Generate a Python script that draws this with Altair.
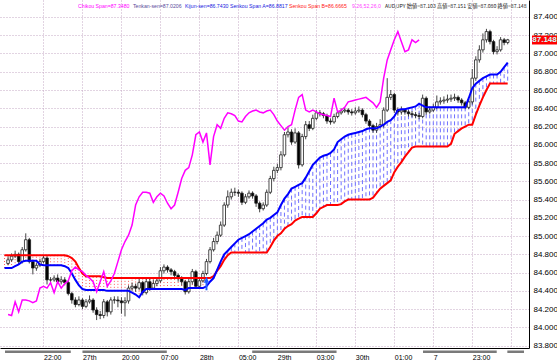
import altair as alt
import pandas as pd

# ---------------- data ----------------
first_open = 84.70
closes = [
    84.74, 84.78, 84.80, 84.72, 84.85, 84.96, 84.72, 84.65, 84.68, 84.72,
    84.76, 84.52, 84.52, 84.54, 84.50, 84.52, 84.49, 84.37, 84.30, 84.25,
    84.30, 84.23, 84.28, 84.30, 84.19, 84.14, 84.13, 84.28, 84.17, 84.30,
    84.30, 84.29, 84.27, 84.29, 84.43, 84.45, 84.43, 84.49, 84.38, 84.50,
    84.43, 84.48, 84.51, 84.62, 84.66, 84.63, 84.61, 84.57, 84.54, 84.50,
    84.39, 84.50, 84.61, 84.45, 84.51, 84.59, 84.72, 84.85, 84.94, 85.01,
    85.12, 85.34, 85.43, 85.48, 85.48, 85.47, 85.37, 85.43, 85.47, 85.44,
    85.36, 85.30, 85.34, 85.48, 85.63, 85.72, 85.75, 85.89, 86.11, 86.14,
    86.03, 86.13, 85.78, 86.09, 86.22, 86.18, 86.29, 86.35, 86.34, 86.32,
    86.26, 86.25, 86.31, 86.35, 86.37, 86.38, 86.36, 86.35, 86.37, 86.38,
    86.33, 86.26, 86.21, 86.16, 86.20, 86.22, 86.38, 86.52, 86.55, 86.38,
    86.36, 86.38, 86.36, 86.34, 86.33, 86.32, 86.31, 86.51, 86.36, 86.38,
    86.41, 86.47, 86.48, 86.49, 86.50, 86.51, 86.52, 86.49, 86.46, 86.41,
    86.47, 86.73, 86.93, 87.04, 87.15, 87.24, 87.13, 87.02, 87.04, 87.15,
    87.12, 87.15,
]
highs = [
    84.78, 84.81, 84.84, 84.82, 84.88, 85.03, 84.98, 84.74, 84.71, 84.75,
    84.79, 84.78, 84.55, 84.57, 84.58, 84.56, 84.55, 84.51, 84.39, 84.33,
    84.34, 84.32, 84.31, 84.35, 84.32, 84.22, 84.18, 84.31, 84.30, 84.33,
    84.34, 84.34, 84.33, 84.33, 84.46, 84.49, 84.48, 84.53, 84.51, 84.54,
    84.53, 84.52, 84.55, 84.66, 84.69, 84.68, 84.65, 84.63, 84.59, 84.56,
    84.52, 84.53, 84.64, 84.63, 84.54, 84.62, 84.75, 84.88, 84.98, 85.05,
    85.16, 85.37, 85.50, 85.52, 85.53, 85.51, 85.49, 85.46, 85.50, 85.49,
    85.46, 85.38, 85.37, 85.51, 85.66, 85.76, 85.79, 85.93, 86.14, 86.19,
    86.17, 86.18, 86.15, 86.12, 86.26, 86.26, 86.33, 86.38, 86.38, 86.36,
    86.34, 86.29, 86.34, 86.38, 86.40, 86.41, 86.40, 86.39, 86.41, 86.42,
    86.40, 86.35, 86.28, 86.23, 86.24, 86.28, 86.41, 86.73, 86.60, 86.57,
    86.41, 86.42, 86.40, 86.38, 86.37, 86.36, 86.35, 86.55, 86.53, 86.42,
    86.45, 86.54, 86.52, 86.53, 86.55, 86.55, 86.56, 86.54, 86.51, 86.48,
    86.50, 86.83, 86.97, 87.09, 87.22, 87.27, 87.26, 87.15, 87.08, 87.18,
    87.17, 87.16,
]
lows = [
    84.68, 84.72, 84.76, 84.69, 84.70, 84.83, 84.70, 84.58, 84.62, 84.66,
    84.70, 84.47, 84.49, 84.50, 84.48, 84.47, 84.46, 84.35, 84.26, 84.22,
    84.23, 84.20, 84.21, 84.26, 84.16, 84.08, 84.09, 84.10, 84.12, 84.14,
    84.26, 84.22, 84.15, 84.12, 84.26, 84.40, 84.39, 84.41, 84.35, 84.36,
    84.40, 84.41, 84.45, 84.49, 84.59, 84.60, 84.57, 84.54, 84.50, 84.46,
    84.36, 84.37, 84.47, 84.42, 84.43, 84.49, 84.57, 84.70, 84.83, 84.91,
    84.99, 85.10, 85.31, 85.40, 85.44, 85.43, 85.34, 85.35, 85.41, 85.41,
    85.32, 85.26, 85.28, 85.32, 85.46, 85.60, 85.69, 85.72, 85.87, 86.08,
    86.00, 86.01, 85.74, 85.76, 86.06, 86.15, 86.16, 86.27, 86.31, 86.29,
    86.23, 86.22, 86.23, 86.29, 86.33, 86.35, 86.33, 86.32, 86.33, 86.35,
    86.30, 86.23, 86.18, 86.13, 86.13, 86.18, 86.19, 86.36, 86.49, 86.35,
    86.32, 86.33, 86.33, 86.31, 86.30, 86.29, 86.28, 86.29, 86.33, 86.34,
    86.36, 86.39, 86.44, 86.45, 86.46, 86.47, 86.48, 86.46, 86.43, 86.39,
    86.39, 86.44, 86.70, 86.90, 87.01, 87.12, 87.10, 86.99, 86.99, 87.02,
    87.09, 87.10,
]
# Senkou Span A (blue) and B (red), bars 0..142
span_a = [
    84.65, 84.65, 84.65, 84.67, 84.69, 84.72, 84.73, 84.73, 84.73, 84.73,
    84.69, 84.68, 84.68, 84.68, 84.68, 84.68, 84.68, 84.67, 84.65, 84.59,
    84.52, 84.46, 84.42, 84.41, 84.41, 84.41, 84.41, 84.41, 84.41, 84.40,
    84.40, 84.40, 84.40, 84.40, 84.40, 84.40, 84.38, 84.36, 84.33, 84.39,
    84.42, 84.42, 84.42, 84.42, 84.42, 84.42, 84.42, 84.42, 84.42, 84.42,
    84.42, 84.41, 84.43, 84.43, 84.43, 84.43, 84.43, 84.45, 84.50, 84.54,
    84.63, 84.72, 84.80, 84.84, 84.88, 84.92, 84.96, 84.98, 85.00, 85.02,
    85.05, 85.08, 85.11, 85.14, 85.18, 85.20, 85.23, 85.26, 85.34, 85.41,
    85.46, 85.52, 85.54, 85.56, 85.58, 85.64, 85.71, 85.78, 85.82, 85.86,
    85.88, 85.89, 85.91, 85.95, 86.03, 86.06, 86.09, 86.11, 86.12, 86.13,
    86.14, 86.15, 86.17, 86.18, 86.18, 86.18, 86.20, 86.22, 86.25, 86.27,
    86.31, 86.38, 86.39, 86.39, 86.40, 86.41, 86.42, 86.45, 86.43, 86.41,
    86.41, 86.41, 86.41, 86.41, 86.41, 86.41, 86.41, 86.41, 86.41, 86.41,
    86.41, 86.51, 86.62, 86.67, 86.70, 86.73, 86.75, 86.77, 86.77, 86.77,
    86.80, 86.85, 86.90,
]
span_b = [
    84.79, 84.79, 84.79, 84.79, 84.79, 84.79, 84.79, 84.79, 84.79, 84.79,
    84.79, 84.79, 84.79, 84.79, 84.79, 84.79, 84.79, 84.79, 84.78, 84.76,
    84.72, 84.65, 84.59, 84.56, 84.56, 84.56, 84.56, 84.56, 84.55, 84.54,
    84.54, 84.54, 84.54, 84.54, 84.54, 84.54, 84.54, 84.54, 84.54, 84.54,
    84.54, 84.54, 84.54, 84.54, 84.54, 84.54, 84.54, 84.54, 84.54, 84.54,
    84.54, 84.54, 84.54, 84.54, 84.54, 84.54, 84.54, 84.54, 84.54, 84.56,
    84.62, 84.67, 84.74, 84.79, 84.82, 84.82, 84.82, 84.82, 84.82, 84.82,
    84.82, 84.82, 84.82, 84.82, 84.82, 84.88, 84.95, 85.00, 85.03, 85.08,
    85.11, 85.13, 85.17, 85.19, 85.21, 85.21, 85.21, 85.21, 85.25, 85.30,
    85.32, 85.34, 85.34, 85.34, 85.34, 85.35, 85.38, 85.40, 85.40, 85.40,
    85.40, 85.40, 85.40, 85.40, 85.42, 85.47, 85.52, 85.55, 85.58, 85.61,
    85.70, 85.76, 85.81, 85.87, 85.92, 85.97, 85.98, 85.98, 85.98, 85.98,
    85.98, 85.98, 85.98, 85.98, 85.98, 85.98, 86.01, 86.12, 86.15, 86.18,
    86.20, 86.22, 86.22, 86.33, 86.43, 86.52, 86.60, 86.67, 86.67, 86.67,
    86.67, 86.67, 86.67,
]
chikou_shift = 25
last_price = 87.148

tick_idx = [11, 22, 33, 44, 55, 66, 77, 88, 99, 110, 121, 132]
tick_labels = ["22:00", "27th", "20:00", "07:00", "28th", "05:00",
               "29th", "03:00", "30th", "01:00", "7", "23:00"]
grid_idx = tick_idx + [143]
y_ticks = [83.8, 84.0, 84.2, 84.4, 84.6, 84.8, 85.0, 85.2, 85.4, 85.6,
           85.8, 86.0, 86.2, 86.4, 86.6, 86.8, 87.0, 87.2, 87.4]
session_start = [0.14, 22.0, 69.9, 118.1, 141.9]
session_end = [18.7, 45.8, 93.7, 138.9, 146.6]
arrow_bar = 57
arrow_price = 84.48

header = [
    ("Chikou Span=87.3480", 78, "#ff00ff", "Liberation Sans"),
    ("Tenkan-sen=87.0206", 133, "#5a4a9a", "Liberation Sans"),
    ("Kijun-sen=86.7430", 185, "#2020e0", "Liberation Sans"),
    ("Senkou Span A=86.8817", 230, "#2020e0", "Liberation Sans"),
    ("Senkou Span B=86.6665", 289, "#ff2020", "Liberation Sans"),
    ("9,26,52,26,0", 352, "#ff40ff", "Liberation Sans"),
    ("AUD/JPY 始値=87.103 高値=87.151 安値=87.080 終値=87.148", 385, "#202020", "Noto Sans CJK JP"),
]

# ---------------- tables ----------------
bars = list(range(1, len(closes) + 1))
opens = [first_open] + closes[:-1]
candles = pd.DataFrame({"i": bars, "o": opens, "h": highs, "l": lows, "c": closes})
candles["fill"] = ["white" if c >= o else "black" for o, c in zip(opens, closes)]
cloud = pd.DataFrame({"i": list(range(len(span_a))), "a": span_a, "b": span_b})
chikou = pd.DataFrame({"i": [b - chikou_shift for b in bars if b > chikou_shift],
                       "v": closes[chikou_shift:]})

expr = " : ".join(f"datum.value == {i} ? '{t}'" for i, t in zip(tick_idx, tick_labels)) + " : ''"

xs = alt.Scale(domain=[0.14, 146.6], nice=False, zero=False)
ys = alt.Scale(domain=[83.774, 87.586], nice=False, zero=False)
grid_col = "#c4a8c4"
x_axis = alt.Axis(values=grid_idx, labelExpr=expr, labelAlign="left", labelBaseline="top",
                  labelFontSize=7, labelFont="Liberation Sans", labelColor="#000000",
                  labelPadding=5, ticks=False, domainColor="#000000", domainWidth=1,
                  grid=True, gridColor=grid_col, gridDash=[1, 2], title=None,
                  labelOverlap=False, labelFlush=False, zindex=0)
y_axis = alt.Axis(orient="right", values=y_ticks, format=".3f", labelFontSize=8,
                  labelFont="Liberation Sans", labelColor="#000000", labelPadding=4,
                  ticks=False, domainColor="#000000", domainWidth=1, grid=True,
                  gridColor=grid_col, gridDash=[1, 2], title=None,
                  labelOverlap=False, labelFlush=False, zindex=0)


def X(f="i"):
    return alt.X(f"{f}:Q", scale=xs, axis=x_axis)


def Y(f):
    return alt.Y(f"{f}:Q", scale=ys, axis=y_axis)


sessions = alt.Chart(pd.DataFrame({"s": session_start, "e": session_end})).mark_rect(
    color="#7a7a7a").encode(x=X("s"), x2="e:Q", y=alt.value(350.5), y2=alt.value(353))

red_fill = alt.Chart(cloud).transform_filter("datum.b > datum.a").mark_rule(
    color="#ff5a5a", strokeDash=[1, 2], strokeWidth=1).encode(x=X(), y=Y("a"), y2="b:Q")
blue_fill = alt.Chart(cloud).transform_filter("datum.a >= datum.b").mark_rule(
    color="#7070ff", strokeDash=[4, 3], strokeWidth=1).encode(x=X(), y=Y("a"), y2="b:Q")

wicks = alt.Chart(candles).mark_rule(color="#303030", strokeWidth=0.9).encode(
    x=X(), y=Y("l"), y2="h:Q")
bodies = alt.Chart(candles).mark_bar(size=2.6, stroke="#202020", strokeWidth=0.8).encode(
    x=X(), y=Y("o"), y2="c:Q", fill=alt.Fill("fill:N", scale=None))

line_b = alt.Chart(cloud).mark_line(color="#ff0000", strokeWidth=2).encode(x=X(), y=Y("b"))
line_a = alt.Chart(cloud).mark_line(color="#0000ff", strokeWidth=2).encode(x=X(), y=Y("a"))
chik = alt.Chart(chikou).mark_line(color="#ff00ff", strokeWidth=1.5).encode(x=X(), y=Y("v"))

arrow = alt.Chart(pd.DataFrame({"i": [arrow_bar], "p": [arrow_price]})).mark_point(
    shape="arrow", filled=True, size=180, color="#1f5fff", opacity=1).encode(x=X(), y=Y("p"))

tag_df = pd.DataFrame({"p": [last_price], "t": [f"{last_price:.3f}"]})
tag_box = alt.Chart(tag_df).mark_point(
    shape="M-1,-0.36L1,-0.36L1,0.36L-1,0.36Z", filled=True, size=625,
    color="#ff0000", opacity=1).encode(x=alt.value(544.5), y=Y("p"))
tag_text = alt.Chart(tag_df).mark_text(
    color="#c8ffff", fontSize=8, font="Liberation Sans", fontWeight="bold").encode(
    x=alt.value(544.5), y=Y("p"), text="t:N")

texts = []
for seg, xpos, col, fnt in header:
    texts.append(alt.Chart(pd.DataFrame({"t": [seg]})).mark_text(
        align="left", baseline="middle", fontSize=5.2, font=fnt, color=col).encode(
        x=alt.value(xpos), y=alt.value(6), text="t:N"))

chart = alt.layer(
    sessions, red_fill, blue_fill, wicks, bodies, line_b, line_a, chik, arrow,
    tag_box, tag_text, *texts
).properties(
    width=529, height=348,
    padding={"left": 0, "top": 0, "right": 28, "bottom": 15},
    autosize=alt.AutoSizeParams(type="none"),
    background="white",
).configure_view(strokeWidth=0)

chart.save("out.html", embed_options={"renderer": "svg", "actions": False})
